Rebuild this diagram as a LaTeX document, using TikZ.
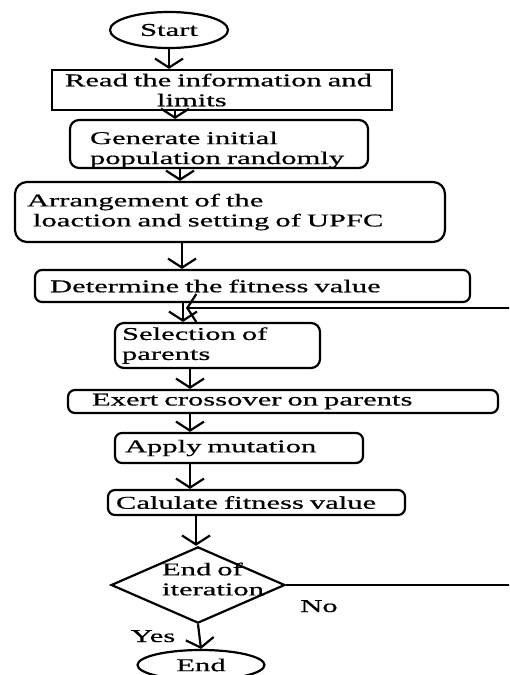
\documentclass[tikz,border=0pt]{standalone}
\usepackage{fontspec}
\setmainfont[FakeStretch=1.7,FakeBold=0.6]{Liberation Serif}
\usetikzlibrary{shapes.geometric,arrows.meta}
\begin{document}
\begin{tikzpicture}[x=1pt,y=-1pt,
  every node/.style={font=\fontsize{18}{20}\selectfont},
  box/.style={draw, rectangle, rounded corners=7pt, line width=2.2pt, inner sep=0pt, align=left},
  term/.style={draw, ellipse, line width=2.2pt, inner sep=0pt},
  decision/.style={draw, diamond, line width=2.2pt, inner sep=0pt, align=left},
  arr/.style={line width=2.2pt, -{Straight Barb[length=9pt,width=28pt,line width=2.2pt]}},
]
\useasboundingbox (0,0) rectangle (509,675);
\clip (0,0) rectangle (509,675);

\node[term, minimum width=118, minimum height=36] (start) at (169,30) {Start};
\node[box, sharp corners, minimum width=340, minimum height=40, text width=314] (read) at (222,90)
  {\mbox{Read the information and}\\\hspace*{92pt}limits};
\node[box, rounded corners=9pt, minimum width=298, minimum height=42, text width=258, text height=24pt] (gen) at (219,144)
  {\mbox{Generate initial}\\\mbox{population randomly}};
\node[box, rounded corners=12pt, minimum width=430, minimum height=60, text width=406] (arr) at (230,212)
  {\mbox{Arrangement of the}\\\hspace*{6pt}\mbox{loaction and setting of UPFC}};
\node[box, minimum width=435, minimum height=32, text width=405] (det) at (252.5,286)
  {\mbox{Determine the fitness value}};
\node[box, rounded corners=9pt, minimum width=205, minimum height=45, text width=191] (sel) at (217.5,345.5)
  {\mbox{Selection of}\\\mbox{parents}};
\node[box, minimum width=430, minimum height=23, text width=382] (exe) at (283,401.5)
  {\mbox{Exert crossover on parents}};
\node[box, minimum width=248, minimum height=30, text width=228] (mut) at (239,448)
  {\mbox{Apply mutation}};
\node[box, minimum width=297, minimum height=25, text width=281] (cal) at (256.5,502.5)
  {\mbox{Calulate fitness value}};
\node[decision, aspect=2.28, minimum width=173, minimum height=76, text width=72, text depth=32pt] (dec) at (198,585)
  {\mbox{End of}\\\mbox{iteration}};
\node[term, minimum width=127, minimum height=30] (end) at (201,665) {End};

\node[anchor=base] (no) at (319,612) {No};
\node[anchor=base] (yes) at (153,642) {Yes};

\coordinate (fb) at (186,308);

\draw[arr] (start.south) -- (start.south |- read.north);
\draw[arr] (read.south -| 175,0) -- (gen.north -| 175,0);
\draw[arr] (gen.south -| 180,0) -- (arr.north -| 180,0);
\draw[arr] (arr.south -| 182,0) -- (det.north -| 182,0);
\draw[arr] (det.south -| 183,0) -- (sel.north -| 183,0);
\draw[arr] (dec.east) -- (dec.east -| 515,0) -- (fb -| 515,0) -- (fb);
\draw[arr] (sel.south -| 190,0) -- (exe.north -| 190,0);
\draw[arr] (exe.south -| 190,0) -- (mut.north -| 190,0);
\draw[arr] (mut.south -| 190,0) -- (cal.north -| 190,0);
\draw[arr] (cal.south -| 196,0) -- (dec.north -| 196,0);
\draw[arr] (dec.south) -- (end.north);
\end{tikzpicture}
\end{document}
